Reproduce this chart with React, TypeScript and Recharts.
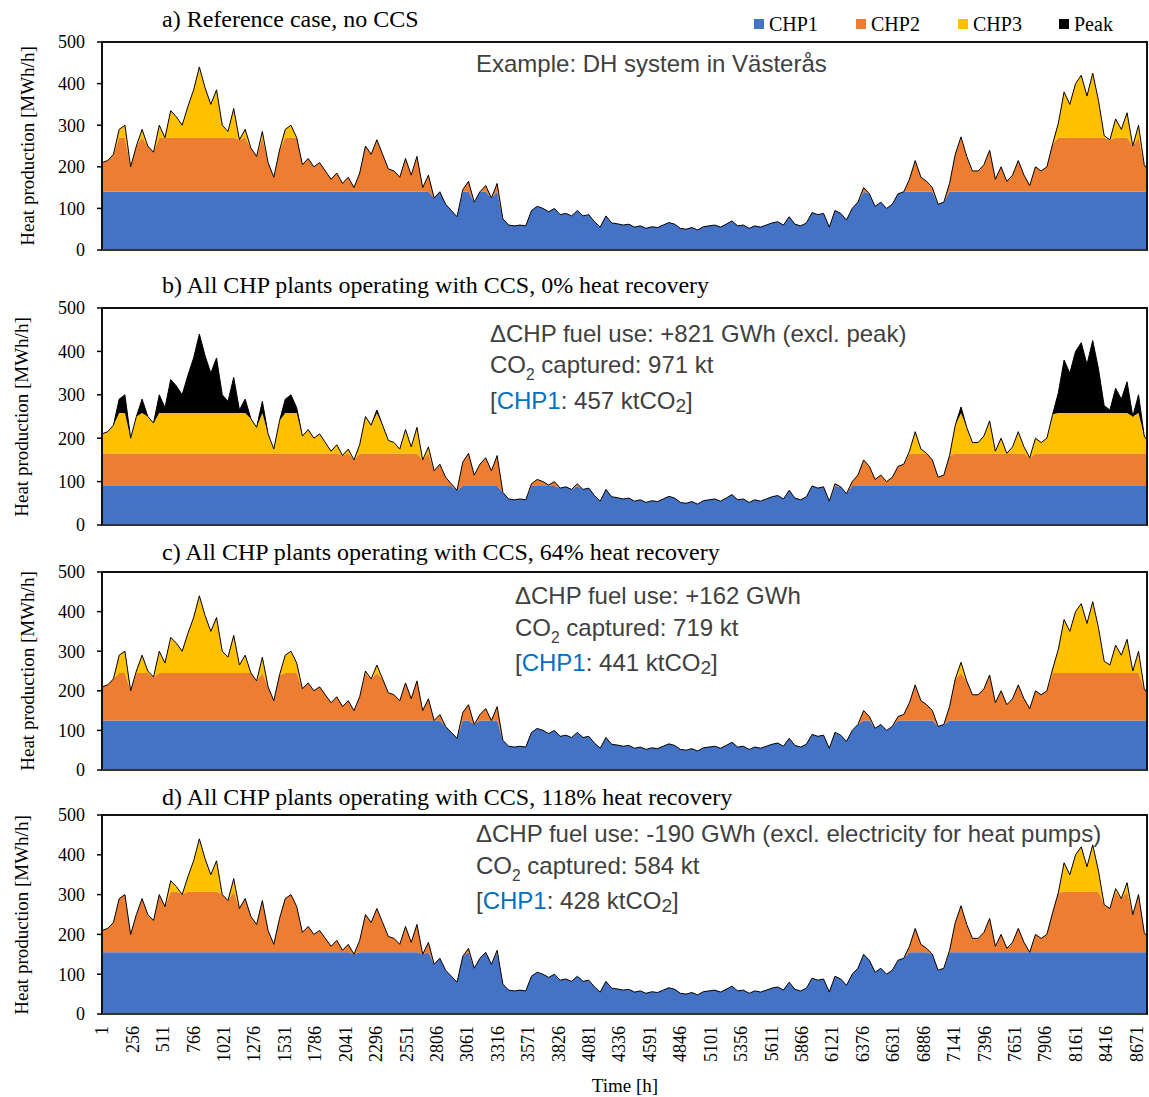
import React from 'react';
import { AreaChart, Area, XAxis, YAxis } from 'recharts';

// Hourly heat demand, sampled every 48 h (MWh/h)
const SAMPLE_STEP = 48;
const heatDemand = [
  210, 215, 230, 290, 300, 200, 250, 290, 250, 235,
  300, 270, 335, 320, 300, 345, 385, 440, 390, 350,
  385, 300, 285, 340, 265, 290, 245, 225, 285, 210,
  175, 240, 290, 300, 270, 205, 220, 200, 210, 190,
  170, 185, 160, 175, 150, 185, 250, 230, 265, 230,
  195, 190, 175, 220, 180, 225, 150, 180, 125, 140,
  110, 95, 80, 145, 165, 115, 140, 155, 125, 160,
  75, 60, 58, 60, 58, 95, 105, 100, 92, 100,
  85, 88, 82, 95, 82, 85, 68, 55, 82, 65,
  63, 60, 62, 55, 58, 52, 56, 54, 60, 66,
  62, 52, 50, 54, 48, 56, 58, 60, 55, 62,
  70, 58, 60, 52, 58, 55, 60, 65, 68, 60,
  80, 62, 58, 65, 90, 85, 88, 55, 95, 88,
  72, 100, 115, 150, 135, 105, 115, 100, 110, 135,
  140, 170, 215, 175, 165, 150, 110, 115, 160, 230,
  272, 225, 190, 190, 205, 240, 170, 200, 165, 180,
  215, 180, 155, 200, 190, 200, 255, 305, 380, 350,
  400, 420, 370, 425, 360, 275, 265, 315, 290, 330,
  250, 300, 205, 195,
];

const hourTicks = [
  1, 256, 511, 766, 1021, 1276, 1531, 1786, 2041, 2296, 2551, 2806,
  3061, 3316, 3571, 3826, 4081, 4336, 4591, 4846, 5101, 5356, 5611,
  5866, 6121, 6376, 6631, 6886, 7141, 7396, 7651, 7906, 8161, 8416, 8671,
];
const heatTicks = [0, 100, 200, 300, 400, 500];

// Upper stack level reached by each plant in the four cases (MWh/h)
const chp1Level = [140, 90, 125, 155];
const chp2Level = [270, 165, 245, 307];
const chp3Level = [1000, 258, 1000, 1000];

const panelTitles = [
  'a) Reference case, no CCS',
  'b) All CHP plants operating with CCS, 0% heat recovery',
  'c) All CHP plants operating with CCS, 64% heat recovery',
  'd) All CHP plants operating with CCS, 118% heat recovery',
];
const fuelUse = [
  '',
  'ΔCHP fuel use: +821 GWh (excl. peak)',
  'ΔCHP fuel use: +162 GWh',
  'ΔCHP fuel use: -190 GWh (excl. electricity for heat pumps)',
];
const co2Captured = ['', '971', '719', '584'];
const chp1Captured = ['', '457', '441', '428'];

const COLORS = { CHP1: '#4472C4', CHP2: '#ED7D31', CHP3: '#FFC000', Peak: '#000000' };
const SERIF = '"Liberation Serif", "Times New Roman", serif';
const SANS = '"Liberation Sans", Arial, sans-serif';

const W = 1149;
const PLOT_LEFT = 102;
const PLOT_RIGHT = 1147;

const panels = [
  { plotTop: 42, plotBottom: 250, titleY: 20, yLabelX: 28, noteX: 476, noteY: [64] },
  { plotTop: 308, plotBottom: 525, titleY: 286, yLabelX: 22, noteX: 490, noteY: [334, 365, 401] },
  { plotTop: 572, plotBottom: 770, titleY: 553, yLabelX: 28, noteX: 515, noteY: [596, 628, 663] },
  { plotTop: 815, plotBottom: 1014, titleY: 798, yLabelX: 22, noteX: 476, noteY: [834, 866, 901] },
];

const buildRows = (k: number) =>
  heatDemand.map((d, i) => {
    const c1 = chp1Level[k];
    const c2 = chp2Level[k];
    const c3 = chp3Level[k];
    return {
      hour: Math.min(1 + i * SAMPLE_STEP, 8760),
      CHP1: Math.min(d, c1),
      CHP2: Math.min(Math.max(d - c1, 0), c2 - c1),
      CHP3: Math.min(Math.max(d - c2, 0), c3 - c2),
      Peak: Math.max(d - c3, 0),
    };
  });

const HourTick = (props: any) => {
  const { x, y, payload } = props;
  return (
    <text
      x={x}
      y={y}
      transform={`rotate(-90, ${x}, ${y})`}
      textAnchor="end"
      dy="0.35em"
      fontFamily={SERIF}
      fontSize={18}
      fill="#000"
    >
      {payload.value}
    </text>
  );
};

const Sub = ({ children }: { children: React.ReactNode }) => (
  <span style={{ fontSize: '0.65em', position: 'relative', top: '0.45em' }}>{children}</span>
);

const noteStyle = (x: number, cy: number): React.CSSProperties => ({
  position: 'absolute',
  left: x,
  top: cy - 14,
  fontFamily: SANS,
  fontSize: 24,
  lineHeight: '28px',
  color: '#404040',
  whiteSpace: 'nowrap',
});

const Panel = ({ k }: { k: number }) => {
  const p = panels[k];
  const last = k === panels.length - 1;
  const plotH = p.plotBottom - p.plotTop;
  const mt = 10;
  const mb = last ? 5 : 9;
  const xAxisH = last ? 60 : 1;
  const data = buildRows(k);

  return (
    <>
      <div style={{ position: 'absolute', left: 0, top: p.plotTop - mt }}>
        <AreaChart
          width={W}
          height={mt + plotH + xAxisH + mb}
          data={data}
          margin={{ top: mt, right: W - PLOT_RIGHT, bottom: mb, left: PLOT_LEFT - 70 }}
        >
          <XAxis
            dataKey="hour"
            type="number"
            domain={[1, 8760]}
            ticks={hourTicks}
            interval={0}
            height={xAxisH}
            axisLine={false}
            tickLine={false}
            tickSize={0}
            tickMargin={12}
            tick={last ? <HourTick /> : false}
          />
          <YAxis
            type="number"
            domain={[0, 500]}
            ticks={heatTicks}
            interval={0}
            width={70}
            axisLine={false}
            tickLine={{ stroke: '#000', strokeWidth: 1.5 }}
            tickSize={5}
            tickMargin={12}
            tick={{ fontFamily: SERIF, fontSize: 18, fill: '#000' }}
          />
          {(['CHP1', 'CHP2', 'CHP3'] as const).map((key) => (
            <Area
              key={key}
              type="linear"
              dataKey={key}
              stackId="heat"
              fill={COLORS[key]}
              fillOpacity={1}
              stroke="none"
              isAnimationActive={false}
            />
          ))}
          <Area
            type="linear"
            dataKey="Peak"
            stackId="heat"
            fill={COLORS.Peak}
            fillOpacity={1}
            stroke="#000"
            strokeWidth={1}
            isAnimationActive={false}
          />
        </AreaChart>
      </div>

      {/* plot frame */}
      <div
        style={{
          position: 'absolute',
          left: PLOT_LEFT - 1,
          top: p.plotTop - 1,
          width: PLOT_RIGHT - PLOT_LEFT + 2,
          height: plotH + 2,
          boxSizing: 'border-box',
          border: '2px solid #111',
          borderBottomColor: '#333',
          pointerEvents: 'none',
        }}
      />

      <div
        style={{
          position: 'absolute',
          left: 162,
          top: p.titleY - 13,
          fontFamily: SERIF,
          fontSize: 24,
          lineHeight: '24px',
          whiteSpace: 'nowrap',
          color: '#000',
        }}
      >
        {panelTitles[k]}
      </div>

      <div
        style={{
          position: 'absolute',
          left: p.yLabelX - 110,
          top: (p.plotTop + p.plotBottom) / 2 - 11,
          width: 220,
          textAlign: 'center',
          transform: 'rotate(-90deg)',
          fontFamily: SERIF,
          fontSize: 19,
          lineHeight: '22px',
          whiteSpace: 'nowrap',
        }}
      >
        Heat production [MWh/h]
      </div>

      {k === 0 ? (
        <div style={noteStyle(p.noteX, p.noteY[0])}>Example: DH system in Västerås</div>
      ) : (
        <>
          <div style={noteStyle(p.noteX, p.noteY[0])}>{fuelUse[k]}</div>
          <div style={noteStyle(p.noteX, p.noteY[1])}>
            CO<Sub>2</Sub> captured: {co2Captured[k]} kt
          </div>
          <div style={noteStyle(p.noteX, p.noteY[2])}>
            [<span style={{ color: '#0070C0' }}>CHP1</span>: {chp1Captured[k]} ktCO
            <span style={{ fontSize: '0.8em', position: 'relative', top: '0.15em' }}>2</span>]
          </div>
        </>
      )}
    </>
  );
};

const legendX = [754, 856, 958, 1059];

export default function App() {
  return (
    <div style={{ position: 'absolute', left: 0, top: 0, width: W, height: 1097, background: '#fff' }}>
      {panels.map((_, k) => (
        <Panel key={k} k={k} />
      ))}

      {(['CHP1', 'CHP2', 'CHP3', 'Peak'] as const).map((key, i) => (
        <div
          key={key}
          style={{
            position: 'absolute',
            left: legendX[i],
            top: 13,
            display: 'flex',
            alignItems: 'center',
            fontFamily: SERIF,
            fontSize: 20,
            lineHeight: '22px',
          }}
        >
          <span style={{ width: 10, height: 10, background: COLORS[key], marginRight: 5 }} />
          {key}
        </div>
      ))}

      <div
        style={{
          position: 'absolute',
          left: 0,
          width: 1250,
          top: 1075,
          textAlign: 'center',
          fontFamily: SERIF,
          fontSize: 19,
          lineHeight: '22px',
        }}
      >
        Time [h]
      </div>
    </div>
  );
}
